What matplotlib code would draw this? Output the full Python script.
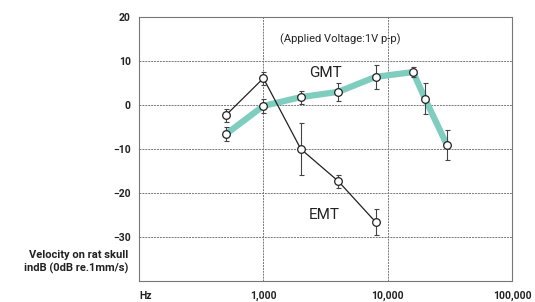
import matplotlib.pyplot as plt
from matplotlib.ticker import FixedLocator, NullLocator

# data
freq_gmt = [500, 1000, 2000, 4000, 8000, 16000, 20000, 30000]
db_gmt = [-6.6, -0.2, 1.8, 3.0, 6.4, 7.5, 1.4, -9.1]
err_gmt = [1.5, 1.5, 1.5, 2.0, 2.7, 1.1, 3.5, 3.5]

freq_emt = [500, 1000, 2000, 4000, 8000]
db_emt = [-2.3, 6.1, -10.0, -17.3, -26.6]
err_emt = [1.5, 1.5, 6.0, 1.5, 3.0]

xticks = [100, 1000, 10000, 100000]
xlabels = ["Hz", "1,000", "10,000", "100,000"]
yticks = [20, 10, 0, -10, -20, -30]

plt.rcParams['font.family'] = ['Roboto', 'DejaVu Sans']

fig = plt.figure(figsize=(5.35, 3.02), dpi=100)
ax = fig.add_axes([0.26, 0.0695, 0.697, 0.874])

ax.set_xscale('log')
ax.set_xlim(100, 100000)
ax.set_ylim(-40, 20)

# thick teal GMT curve
ax.plot(freq_gmt, db_gmt, color='#7fcdbf', lw=4.5, zorder=2, solid_capstyle='butt')
ax.errorbar(freq_gmt, db_gmt, yerr=err_gmt, fmt='none', ecolor='#444444',
            elinewidth=0.8, capsize=1.8, capthick=0.8, zorder=3)
ax.plot(freq_gmt, db_gmt, ls='none', marker='o', ms=5.5, mfc='white',
        mec='#222222', mew=0.9, zorder=4)

# thin black EMT curve
ax.errorbar(freq_emt, db_emt, yerr=err_emt, fmt='none', ecolor='#444444',
            elinewidth=0.8, capsize=1.8, capthick=0.8, zorder=3)
ax.plot(freq_emt, db_emt, color='#222222', lw=0.9, marker='o', ms=5.5,
        mfc='white', mec='#222222', mew=0.9, zorder=4)

ax.xaxis.set_major_locator(FixedLocator(xticks))
ax.xaxis.set_minor_locator(NullLocator())
ax.set_xticklabels(xlabels)
ax.set_yticks(yticks)
ax.tick_params(length=0, labelsize=7.5, colors='#222222')
ax.tick_params(axis='x', pad=7)
ax.tick_params(axis='y', pad=6)
for lab in ax.get_xticklabels() + ax.get_yticklabels():
    lab.set_fontweight('bold')
ax.get_xticklabels()[0].set_horizontalalignment('left')

ax.grid(True, ls=(0, (2, 1)), color='#777777', lw=0.7)
for sp in ax.spines.values():
    sp.set_linestyle((0, (2, 1)))
    sp.set_color('#777777')
    sp.set_linewidth(0.8)

ax.text(4170, 15, "(Applied Voltage:1V p-p)", ha='center', va='center',
        fontsize=8, color='#222222')
ax.text(3160, 7.3, "GMT", ha='center', va='center', fontsize=11, color='#222222')
ax.text(3100, -25, "EMT", ha='center', va='center', fontsize=11, color='#222222')

fig.text(128 / 535, 1 - 262 / 302, "Velocity on rat skull\nindB (0dB re.1mm/s)",
         ha='right', va='center', fontsize=8, color='#222222',
         fontweight='bold', linespacing=1.2)

fig.savefig("out.png", dpi=100, facecolor='white')
